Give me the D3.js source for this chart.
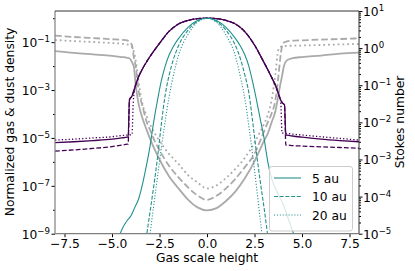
<!DOCTYPE html>
<html>
<head>
<meta charset="utf-8">
<script src="https://cdn.jsdelivr.net/npm/d3@7"></script>
<style>
body{margin:0;background:#fff}
text{font-family:"DejaVu Sans",sans-serif;fill:#000}
</style>
</head>
<body>
<svg id="chart" width="415" height="271"></svg>
<script>
// values (log10 of the plotted quantity)
var gasX = [-8,-7,-6,-5,-4.5,-4.2,-4.15,-4.08,-3.95,-3.88,-3.8,-3.6,-3.4,-3.2,-3,-2.5,-2,-1.5,-1,-0.5,0,
            0.5,1,1.5,2,2.5,3,3.2,3.4,3.6,3.8,3.88,3.95,4.08,4.15,4.2,4.5,5,6,7,8]
var gasLog5 = [-5.2,-5.16,-5.11,-5.05,-5.0,-4.97,-4.96,-3.38,-3.25,-3.1,-2.9,-2.45,-2.12,-1.85,-1.6,-1.05,-0.55,-0.24,-0.09,-0.02,0,
               -0.02,-0.09,-0.24,-0.57,-1.12,-1.85,-2.15,-2.47,-2.8,-3.25,-3.42,-3.52,-3.62,-4.87,-4.88,-4.92,-4.97,-5.05,-5.11,-5.16]
var gasLog10 = [-5.55,-5.5,-5.44,-5.36,-5.3,-5.26,-5.25,-3.42,-3.25,-3.1,-2.9,-2.45,-2.12,-1.85,-1.6,-1.05,-0.55,-0.24,-0.09,-0.02,0,
                -0.02,-0.09,-0.24,-0.57,-1.12,-1.85,-2.15,-2.47,-2.8,-3.25,-3.42,-3.52,-3.65,-5.3,-5.3,-5.32,-5.34,-5.37,-5.4,-5.43]
var gasLog20 = [-5.09,-5.05,-5.0,-4.95,-4.9,-4.88,-4.87,-4.87,-4.86,-3.5,-2.95,-2.45,-2.12,-1.85,-1.6,-1.05,-0.55,-0.24,-0.09,-0.02,0,
                -0.02,-0.09,-0.24,-0.57,-1.12,-1.85,-2.15,-2.47,-2.8,-3.25,-3.5,-4.8,-4.8,-4.81,-4.81,-4.84,-4.88,-4.95,-5.02,-5.09]

var dustX = [-4.6,-4.4,-4.2,-4,-3.8,-3.6,-3.4,-3.2,-3,-2.8,-2.6,-2.4,-2.2,-2,-1.8,-1.5,-1,-0.5,0,
             0.5,1,1.5,1.8,2,2.2,2.4,2.6,2.8,3,3.2,3.4,3.6,3.8,4,4.2,4.4,4.6]
var dustLog5 = [-9.05,-8.7,-8.45,-8.25,-7.9,-7.55,-6.95,-6.2,-5.35,-4.3,-3.4,-2.6,-2.0,-1.55,-1.22,-0.85,-0.38,-0.1,0,
                -0.1,-0.38,-0.85,-1.22,-1.55,-2.0,-2.65,-3.4,-4.2,-5.0,-6.0,-6.7,-7.1,-7.45,-7.75,-8.2,-8.65,-9.1]
var dustLog10 = [null,null,null,null,null,null,-10.4,-9.2,-8.1,-7.0,-5.8,-4.4,-3.2,-2.4,-1.8,-1.15,-0.5,-0.13,0,
                 -0.13,-0.5,-1.15,-1.8,-2.4,-3.1,-4.3,-5.6,-6.8,-7.9,-9.1,-10.3,null,null,null,null,null,null]
var dustLog20 = [null,null,null,null,null,null,null,-10.2,-9.0,-7.8,-6.6,-5.4,-4.3,-3.3,-2.5,-1.55,-0.68,-0.17,0,
                 -0.17,-0.7,-1.6,-2.6,-3.4,-4.5,-5.7,-7.0,-8.4,-9.7,null,null,null,null,null,null,null,null]

var stokesX = [-8,-7,-6,-5,-4.5,-4.2,-4.05,-3.95,-3.85,-3.75,-3.6,-3.4,-3.2,-3,-2.8,-2.5,-2,-1.5,-1,-0.5,0,
               0.5,1,1.5,2,2.5,2.8,3,3.2,3.4,3.6,3.75,3.85,3.95,4.05,4.2,4.5,5,6,7,8]
var stokesLog5 = [-0.08,-0.13,-0.17,-0.21,-0.24,-0.26,-0.29,-0.38,-0.5,-1.0,-1.5,-1.88,-2.17,-2.44,-2.68,-3.0,-3.45,-3.78,-4.08,-4.29,-4.37,
                  -4.31,-4.12,-3.86,-3.5,-3.05,-2.72,-2.5,-2.3,-2.0,-1.7,-1.3,-1.0,-0.75,-0.48,-0.33,-0.27,-0.24,-0.2,-0.15,-0.12]
var stokesLog10 = [0.335,0.3,0.27,0.24,0.225,0.21,0.15,0.08,-0.25,-0.5,-1.15,-1.55,-1.95,-2.2,-2.45,-2.75,-3.17,-3.48,-3.75,-3.97,-4.09,
                   -3.98,-3.78,-3.52,-3.2,-2.85,-2.5,-2.25,-2.0,-1.76,-1.4,-0.8,-0.3,0.05,0.15,0.18,0.2,0.21,0.23,0.245,0.265]
var stokesLog20 = [0.22,0.19,0.165,0.135,0.12,0.1,0.07,0.03,-0.1,-0.35,-0.9,-1.5,-1.8,-2.05,-2.25,-2.5,-2.85,-3.12,-3.42,-3.62,-3.78,
                   -3.7,-3.5,-3.25,-2.95,-2.55,-2.25,-2.05,-1.8,-1.4,-0.7,-0.05,0.03,0.04,0.05,0.06,0.065,0.07,0.085,0.1,0.11]

var legendLabels = ["5 au","10 au","20 au"]
var xTicks = [-7.5,-5,-2.5,0,2.5,5,7.5]
var leftExps = [-9,-7,-5,-3,-1]
var leftMinorExps = [-8,-6,-4,-2,0]
var rightExps = [-5,-4,-3,-2,-1,0,1]

var teal = "#21918c", purple = "#440154", grey = "#aaaaaa"
var fs = 12.3

var svg = d3.select("#chart")
var plot = {left:55, right:359, top:11, bottom:233.7}

var x = d3.scaleLinear().domain([-8,8]).range([plot.left,plot.right])
var yLeft = d3.scaleLog().domain([1e-9,2]).range([plot.bottom,plot.top])
var yRight = d3.scaleLog().domain([1e-5,10]).range([plot.bottom,plot.top])

svg.append("defs").append("clipPath").attr("id","clip")
    .append("rect")
    .attr("x",plot.left).attr("y",plot.top)
    .attr("width",plot.right-plot.left).attr("height",plot.bottom-plot.top)

var toPoints = function(xs, logs)
{
    return xs.map(function(v,i){ return {x:v, v:logs[i]} })
}

var drawCurve = function(xs, logs, yScale, color, width, dash)
{
    var line = d3.line()
        .defined(function(d){ return d.v != null })
        .curve(d3.curveMonotoneX)
        .x(function(d){ return x(d.x) })
        .y(function(d){ return yScale(Math.pow(10,d.v)) })
    svg.append("path")
        .datum(toPoints(xs,logs))
        .attr("clip-path","url(#clip)")
        .attr("fill","none")
        .attr("stroke",color)
        .attr("stroke-width",width)
        .attr("stroke-dasharray",dash)
        .attr("d",line)
}

// stokes number (right axis)
drawCurve(stokesX, stokesLog5, yRight, grey, 1.8, null)
drawCurve(stokesX, stokesLog10, yRight, grey, 1.8, "6.7,2.9")
drawCurve(stokesX, stokesLog20, yRight, grey, 1.8, "1.8,3")
// gas density
drawCurve(gasX, gasLog5, yLeft, purple, 1.3, null)
drawCurve(gasX, gasLog10, yLeft, purple, 1.3, "4.8,2.1")
drawCurve(gasX, gasLog20, yLeft, purple, 1.3, "1.3,2.1")
// dust density
drawCurve(dustX, dustLog5, yLeft, teal, 1.1, null)
drawCurve(dustX, dustLog10, yLeft, teal, 1.1, "4,1.7")
drawCurve(dustX, dustLog20, yLeft, teal, 1.1, "1.1,1.8")

// axes
var xAxis = svg.append("g")
    .attr("transform","translate(0,"+plot.bottom+")")
    .call(d3.axisBottom(x).tickValues(xTicks).tickSize(3.5).tickPadding(2)
        .tickFormat(function(d){ return d3.format(".1f")(d).replace("-","\u2212") }))
xAxis.select(".domain").remove()
xAxis.selectAll("text").attr("font-size",fs).attr("font-family","DejaVu Sans")

var leftAxis = svg.append("g")
    .attr("transform","translate("+plot.left+",0)")
    .call(d3.axisLeft(yLeft).tickValues(leftExps.map(function(e){return Math.pow(10,e)})).tickSize(3.5).tickFormat(""))
leftAxis.select(".domain").remove()
var leftMinor = svg.append("g")
    .attr("transform","translate("+plot.left+",0)")
    .call(d3.axisLeft(yLeft).tickValues(leftMinorExps.map(function(e){return Math.pow(10,e)})).tickSize(2).tickFormat(""))
leftMinor.select(".domain").remove()

var rightMinorVals = []
rightExps.forEach(function(e)
{
    if (e < 1)
        for (var m = 2; m < 10; m++) rightMinorVals.push(m*Math.pow(10,e))
})
var rightAxis = svg.append("g")
    .attr("transform","translate("+plot.right+",0)")
    .call(d3.axisRight(yRight).tickValues(rightExps.map(function(e){return Math.pow(10,e)})).tickSize(3.5).tickFormat(""))
rightAxis.select(".domain").remove()
var rightMinor = svg.append("g")
    .attr("transform","translate("+plot.right+",0)")
    .call(d3.axisRight(yRight).tickValues(rightMinorVals).tickSize(2).tickFormat(""))
rightMinor.select(".domain").remove()

var powLabel = function(g, e, px, py, anchor)
{
    var t = g.append("text").attr("x",px).attr("y",py)
        .attr("text-anchor",anchor).attr("font-size",fs)
    t.append("tspan").text("10")
    t.append("tspan").attr("dy",-5).attr("font-size",8.6)
        .text(e < 0 ? "\u2212"+(-e) : String(e))
}
var labels = svg.append("g")
leftExps.forEach(function(e){ powLabel(labels, e, 50, yLeft(Math.pow(10,e))+5, "end") })
rightExps.forEach(function(e){ powLabel(labels, e, 363, yRight(Math.pow(10,e))+5, "start") })

// frame
svg.append("line").attr("x1",plot.left).attr("x2",plot.left).attr("y1",plot.top).attr("y2",plot.bottom).attr("stroke","#808080").attr("stroke-width",1.2)
svg.append("line").attr("x1",plot.left).attr("x2",plot.right).attr("y1",plot.bottom).attr("y2",plot.bottom).attr("stroke","#808080").attr("stroke-width",1.2)
svg.append("line").attr("x1",plot.left).attr("x2",plot.right).attr("y1",plot.top).attr("y2",plot.top).attr("stroke","#333").attr("stroke-width",1)
svg.append("line").attr("x1",plot.right).attr("x2",plot.right).attr("y1",plot.top).attr("y2",plot.bottom).attr("stroke","#333").attr("stroke-width",1)

// axis titles
svg.append("text").attr("x",207).attr("y",262).attr("text-anchor","middle").attr("font-size",fs).text("Gas scale height")
svg.append("text").attr("transform","translate(14,122) rotate(-90)").attr("text-anchor","middle").attr("font-size",fs).text("Normalized gas & dust density")
svg.append("text").attr("transform","translate(404,122) rotate(-90)").attr("text-anchor","middle").attr("font-size",fs).text("Stokes number")

// legend
var legend = svg.append("g")
legend.append("rect").attr("x",269.5).attr("y",166.5).attr("width",83).attr("height",64.5).attr("rx",2.5)
    .attr("fill","#fff").attr("fill-opacity",0.8).attr("stroke","#cccccc").attr("stroke-width",1)
var legendDash = [null,"4,1.7","1.1,1.8"]
legendLabels.forEach(function(lab,i)
{
    var ly = 178 + i*18.5
    legend.append("line").attr("x1",274).attr("x2",301).attr("y1",ly).attr("y2",ly)
        .attr("stroke",teal).attr("stroke-width",1.1).attr("stroke-dasharray",legendDash[i])
    legend.append("text").attr("x",312).attr("y",ly+4.5).attr("font-size",fs).text(lab)
})
</script>
</body>
</html>
